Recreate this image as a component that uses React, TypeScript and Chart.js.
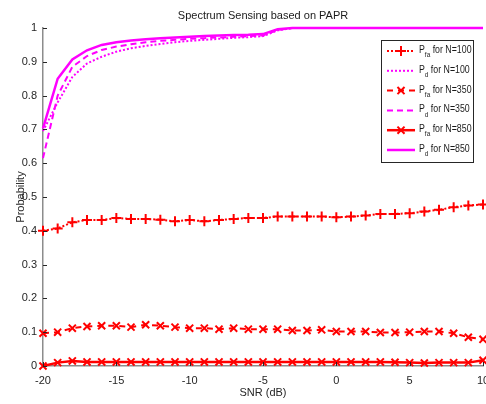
import React, { useEffect, useRef } from "react";
import { Chart, registerables } from "chart.js";

Chart.register(...registerables);

const snr = [-20, -19, -18, -17, -16, -15, -14, -13, -12, -11, -10, -9, -8, -7, -6, -5, -4, -3, -2, -1, 0, 1, 2, 3, 4, 5, 6, 7, 8, 9, 10];

const pfa100 = [0.40, 0.407, 0.425, 0.432, 0.432, 0.438, 0.435, 0.435, 0.433, 0.428, 0.432, 0.428, 0.432, 0.435, 0.438, 0.438, 0.442, 0.442, 0.442, 0.442, 0.44, 0.442, 0.445, 0.45, 0.45, 0.452, 0.457, 0.462, 0.47, 0.475, 0.478];
const pd100 = [0.695, 0.78, 0.855, 0.895, 0.915, 0.93, 0.94, 0.947, 0.953, 0.958, 0.962, 0.965, 0.968, 0.971, 0.973, 0.976, 0.993, 1, 1, 1, 1, 1, 1, 1, 1, 1, 1, 1, 1, 1, 1];
const pfa350 = [0.097, 0.10, 0.112, 0.117, 0.119, 0.119, 0.115, 0.122, 0.119, 0.115, 0.112, 0.112, 0.109, 0.112, 0.109, 0.109, 0.109, 0.105, 0.105, 0.107, 0.102, 0.102, 0.102, 0.099, 0.099, 0.10, 0.102, 0.102, 0.097, 0.085, 0.079];
const pd350 = [0.615, 0.80, 0.885, 0.917, 0.935, 0.945, 0.952, 0.958, 0.962, 0.965, 0.968, 0.970, 0.972, 0.974, 0.976, 0.978, 0.994, 1, 1, 1, 1, 1, 1, 1, 1, 1, 1, 1, 1, 1, 1];
const pfa850 = [0.0, 0.01, 0.015, 0.012, 0.012, 0.012, 0.012, 0.012, 0.012, 0.012, 0.012, 0.012, 0.012, 0.012, 0.012, 0.012, 0.012, 0.012, 0.012, 0.012, 0.012, 0.012, 0.012, 0.012, 0.011, 0.01, 0.009, 0.01, 0.01, 0.01, 0.017];
const pd850 = [0.703, 0.85, 0.907, 0.934, 0.95, 0.958, 0.963, 0.967, 0.970, 0.972, 0.974, 0.976, 0.978, 0.979, 0.980, 0.982, 0.996, 1, 1, 1, 1, 1, 1, 1, 1, 1, 1, 1, 1, 1, 1];

const titleText = "Spectrum Sensing based on PAPR";
const xTitle = "SNR (dB)";
const yTitle = "Probability";

const legendItems = [
  { sub: "fa", rest: " for N=100" },
  { sub: "d", rest: " for N=100" },
  { sub: "fa", rest: " for N=350" },
  { sub: "d", rest: " for N=350" },
  { sub: "fa", rest: " for N=850" },
  { sub: "d", rest: " for N=850" },
];

const RED = "#ff0000";
const MAG = "#ff00ff";
const FONT = "'Liberation Sans', Arial, sans-serif";

const decorPlugin = {
  id: "decor",
  afterDraw(chart: any) {
    const ctx = chart.ctx;
    const area = chart.chartArea;
    ctx.save();
    // title
    ctx.fillStyle = "#1a1a1a";
    ctx.font = `11px ${FONT}`;
    ctx.textAlign = "center";
    ctx.textBaseline = "middle";
    ctx.fillText(titleText, (area.left + area.right) / 2, 16);

    // inward ticks
    ctx.strokeStyle = "#262626";
    ctx.lineWidth = 1;
    const ys = chart.scales.y;
    ys.ticks.forEach((t: any) => {
      const py = Math.round(ys.getPixelForValue(t.value)) + 0.5;
      ctx.beginPath();
      ctx.moveTo(area.left, py);
      ctx.lineTo(area.left + 4, py);
      ctx.stroke();
    });
    const xs = chart.scales.x;
    xs.ticks.forEach((t: any) => {
      const px = Math.round(xs.getPixelForValue(t.value)) + 0.5;
      ctx.beginPath();
      ctx.moveTo(px, area.bottom);
      ctx.lineTo(px, area.bottom - 4);
      ctx.stroke();
    });

    // legend
    const bx = 381.5, by = 40.5, bw = 92, bh = 122;
    ctx.fillStyle = "#ffffff";
    ctx.fillRect(bx, by, bw, bh);
    ctx.strokeStyle = "#262626";
    ctx.lineWidth = 1;
    ctx.strokeRect(bx, by, bw, bh);
    const dsets = chart.data.datasets;
    legendItems.forEach((item, i) => {
      const ds = dsets[i];
      const cy = 51 + i * 19.8;
      const x0 = 387, x1 = 415;
      ctx.save();
      ctx.strokeStyle = ds.borderColor;
      ctx.lineWidth = ds.borderWidth;
      ctx.setLineDash(ds.borderDash || []);
      ctx.beginPath();
      ctx.moveTo(x0, cy);
      ctx.lineTo(x1, cy);
      ctx.stroke();
      ctx.setLineDash([]);
      if (ds.pointStyle && ds.pointRadius > 0) {
        const mx = (x0 + x1) / 2;
        const r = ds.pointRadius;
        ctx.lineWidth = ds.pointBorderWidth;
        ctx.beginPath();
        if (ds.pointStyle === "cross") {
          ctx.moveTo(mx - r, cy); ctx.lineTo(mx + r, cy);
          ctx.moveTo(mx, cy - r); ctx.lineTo(mx, cy + r);
        } else {
          const d = r * 0.7071;
          ctx.moveTo(mx - d, cy - d); ctx.lineTo(mx + d, cy + d);
          ctx.moveTo(mx - d, cy + d); ctx.lineTo(mx + d, cy - d);
        }
        ctx.stroke();
      }
      ctx.restore();
      // condensed text
      ctx.save();
      ctx.translate(419, 0);
      ctx.scale(0.8, 1);
      ctx.fillStyle = "#1a1a1a";
      ctx.textAlign = "left";
      ctx.textBaseline = "middle";
      ctx.font = `11px ${FONT}`;
      let tx = 0;
      ctx.fillText("P", tx, cy - 1);
      tx += ctx.measureText("P").width;
      ctx.font = `8px ${FONT}`;
      ctx.fillText(item.sub, tx, cy + 4);
      tx += ctx.measureText(item.sub).width;
      ctx.font = `11px ${FONT}`;
      ctx.fillText(item.rest, tx, cy - 1);
      ctx.restore();
    });
    ctx.restore();
  },
};

export default function App() {
  const ref = useRef<HTMLCanvasElement | null>(null);
  useEffect(() => {
    if (!ref.current) return;
    const mk = (label: string, data: number[], color: string, dash: number[], width: number, pstyle: any, pr: number) => ({
      label,
      data: snr.map((x, i) => ({ x, y: data[i] })),
      borderColor: color,
      backgroundColor: color,
      borderWidth: width,
      borderDash: dash,
      pointStyle: pstyle,
      pointRadius: pr,
      pointBorderWidth: 2,
      pointBorderColor: color,
      pointHoverRadius: pr,
      tension: 0,
      clip: 6,
    });
    const chart = new Chart(ref.current, {
      type: "line",
      data: {
        datasets: [
          mk("Pfa for N=100", pfa100, RED, [2, 2], 2, "cross", 5),
          mk("Pd for N=100", pd100, MAG, [2, 2], 2, false, 0),
          mk("Pfa for N=350", pfa350, RED, [6, 5], 2, "crossRot", 5),
          mk("Pd for N=350", pd350, MAG, [6, 4], 2, false, 0),
          mk("Pfa for N=850", pfa850, RED, [], 2.5, "crossRot", 5),
          mk("Pd for N=850", pd850, MAG, [], 2.5, false, 0),
        ],
      },
      options: {
        animation: false,
        responsive: false,
        layout: { padding: { left: 0, top: 28, right: 0, bottom: 0 } },
        plugins: { legend: { display: false }, title: { display: false }, tooltip: { enabled: false } },
        scales: {
          x: {
            type: "linear",
            min: -20,
            max: 10,
            ticks: { stepSize: 5, color: "#262626", font: { size: 11, family: FONT }, padding: 8, maxRotation: 0 },
            grid: { drawOnChartArea: false, drawTicks: false },
            border: { color: "#8c8c8c", width: 1.5 },
            title: { display: true, text: xTitle, color: "#262626", font: { size: 11, family: FONT }, padding: { top: 0, bottom: 4 } },
            afterFit: (s: any) => { s.height = 38; s.paddingLeft = 0; s.paddingRight = 0; },
          },
          y: {
            type: "linear",
            min: 0,
            max: 1,
            ticks: { stepSize: 0.1, color: "#262626", font: { size: 11, family: FONT }, padding: 6, callback: (v: any) => String(Math.round(Number(v) * 10) / 10) },
            grid: { drawOnChartArea: false, drawTicks: false },
            border: { color: "#8c8c8c", width: 1.5 },
            title: { display: true, text: yTitle, color: "#262626", font: { size: 11, family: FONT }, padding: { top: 14, bottom: 0 } },
            afterFit: (s: any) => { s.width = 43; s.paddingTop = 0; s.paddingBottom = 0; },
          },
        },
      },
      plugins: [decorPlugin],
    } as any);
    return () => chart.destroy();
  }, []);
  return (
    <div style={{ position: "fixed", left: 0, top: 0, width: 486, height: 404, overflow: "hidden", background: "#fff" }}>
      <canvas ref={ref} width={490} height={404} style={{ width: 490, height: 404, display: "block" }} />
    </div>
  );
}
